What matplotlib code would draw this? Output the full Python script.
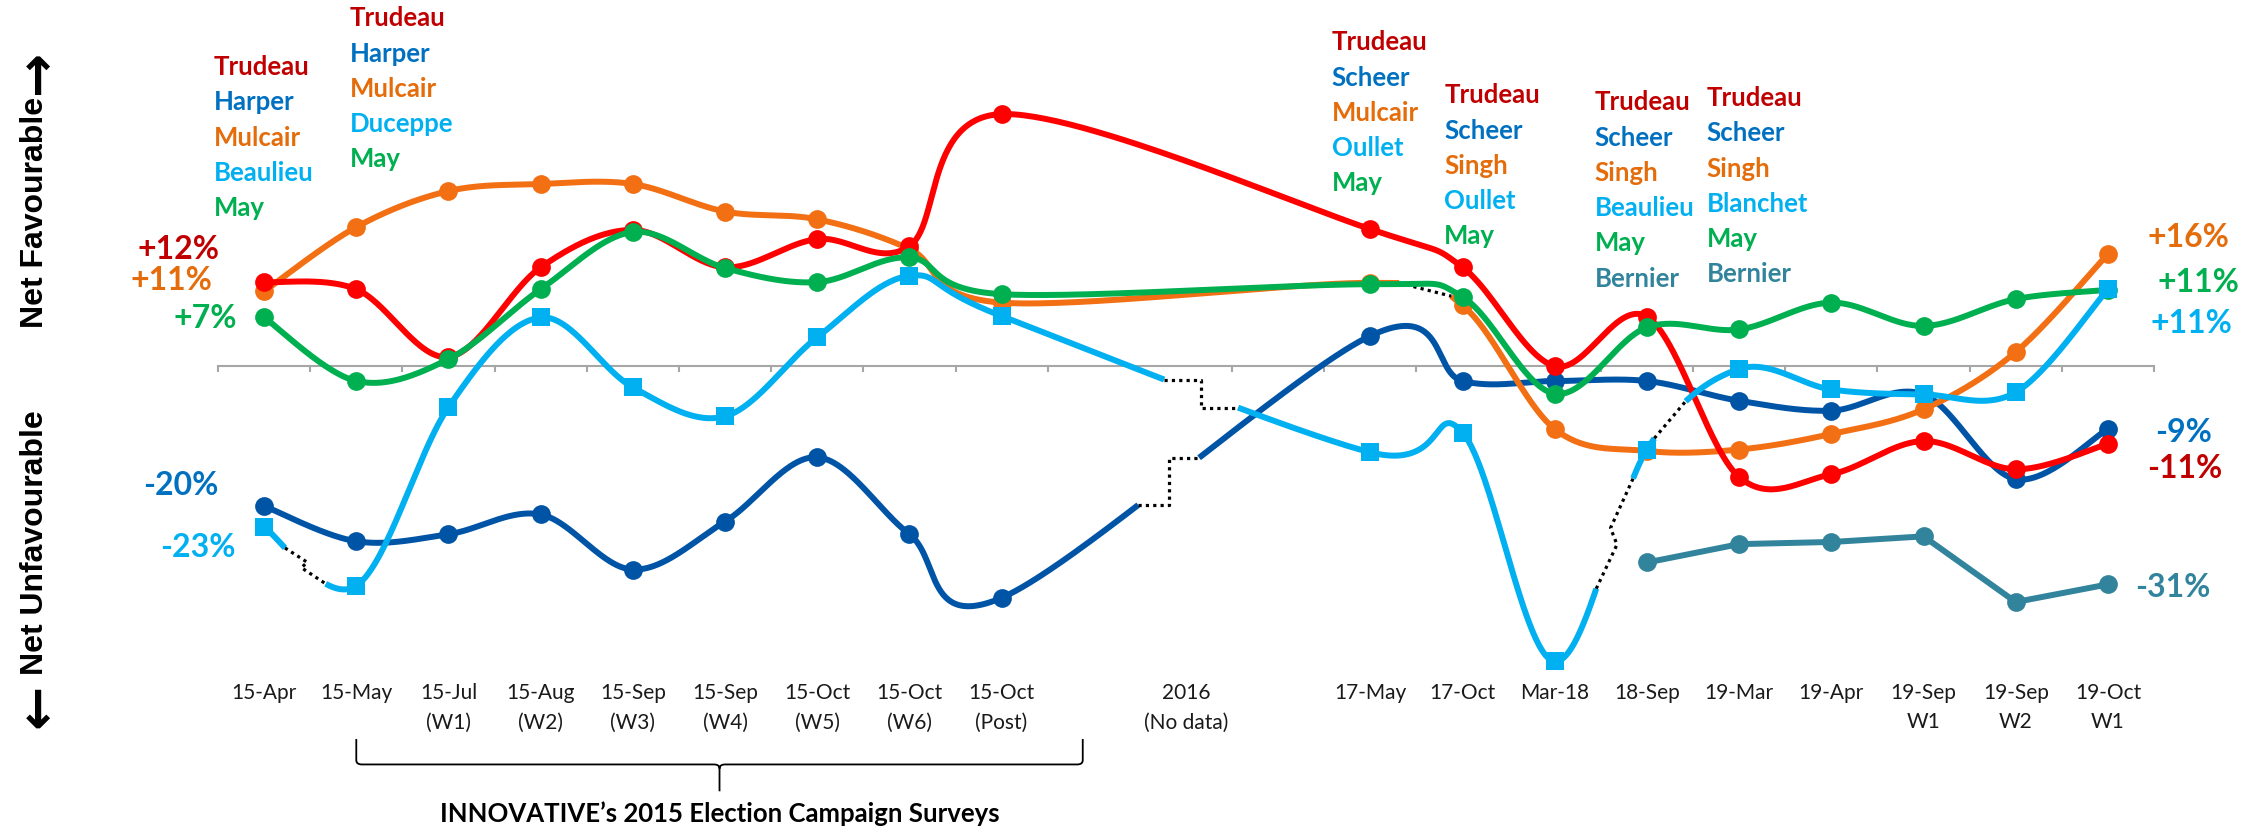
import numpy as np
import matplotlib
matplotlib.use("Agg")
import matplotlib.pyplot as plt
from matplotlib.path import Path
from matplotlib.patches import PathPatch

plt.rcParams["font.family"] = ["Lato", "DejaVu Sans"]

nan = np.nan

# survey waves (two blank slots frame the 2016 "no data" gap)
categories = ["15-Apr", "15-May", "15-Jul\n(W1)", "15-Aug\n(W2)", "15-Sep\n(W3)", "15-Sep\n(W4)",
              "15-Oct\n(W5)", "15-Oct\n(W6)", "15-Oct\n(Post)", "", "2016\n(No data)", "",
              "17-May", "17-Oct", "Mar-18", "18-Sep", "19-Mar", "19-Apr",
              "19-Sep\nW1", "19-Sep\nW2", "19-Oct\nW1"]

# net favourability (%)
liberal = [11.9, 10.9, 1.3, 14.0, 19.3, 14.0, 18.0, 17.0, 35.7, nan, nan, nan,
           19.4, 14.0, 0.0, 7.0, -15.7, -15.3, -10.6, -14.6, -11.0]
conservative = [-19.8, -24.8, -23.8, -21.0, -28.8, -22.0, -12.9, -23.8, -32.8, nan, nan, nan,
                4.3, -2.1, -2.1, -2.1, -4.9, -6.3, -4.0, -16.0, -8.9]
ndp = [10.6, 19.7, 24.8, 25.8, 25.8, 21.9, 20.8, 16.6, 9.0, nan, nan, nan,
       11.8, 8.6, -8.9, -12.0, -11.8, -9.6, -6.1, 2.0, 15.9]
green = [6.9, -2.1, 1.0, 10.9, 19.0, 13.9, 11.9, 15.4, 10.2, nan, nan, nan,
         11.6, 9.8, -3.9, 5.5, 5.2, 9.0, 5.7, 9.5, 10.8]
bloc = [-22.8, -31.1, -5.8, 6.9, -3.0, -7.1, 4.1, 12.8, 7.1, nan, nan, nan,
        -12.2, -9.4, -41.8, -11.8, -0.4, -3.3, -4.0, -3.7, 10.9]
ppc = [nan] * 15 + [-27.8, -25.2, -24.9, -24.1, -33.4, -30.9]

name_columns = [
    ["Trudeau", "Harper", "Mulcair", "Beaulieu", "May"],
    ["Trudeau", "Harper", "Mulcair", "Duceppe", "May"],
    ["Trudeau", "Scheer", "Mulcair", "Oullet", "May"],
    ["Trudeau", "Scheer", "Singh", "Oullet", "May"],
    ["Trudeau", "Scheer", "Singh", "Beaulieu", "May", "Bernier"],
    ["Trudeau", "Scheer", "Singh", "Blanchet", "May", "Bernier"],
]
start_labels = ["+12%", "+11%", "+7%", "-20%", "-23%"]
end_labels = ["+16%", "+11%", "+11%", "-9%", "-11%", "-31%"]

LINE = {"lib": "#FF0000", "con": "#0054A6", "ndp": "#F26F13",
        "bq": "#00B0F0", "grn": "#00B050", "ppc": "#31849B"}
TEXT = {"lib": "#C00000", "con": "#0070C0", "ndp": "#E46C0A",
        "bq": "#00B0F0", "grn": "#00B050", "ppc": "#31849B"}
row_party = ["lib", "con", "ndp", "bq", "grn", "ppc"]

fig = plt.figure(figsize=(22.67, 8.29), dpi=100)
ax = fig.add_axes([218 / 2267, 0, (2154 - 218) / 2267, 1])
ax.set_xlim(-0.5, 20.5)
ax.set_ylim(-65.4, 52.0)
ax.patch.set_visible(False)
for s in ["top", "left", "right"]:
    ax.spines[s].set_visible(False)
ax.spines["bottom"].set_position(("data", 0))
ax.spines["bottom"].set_color("#A6A6A6")
ax.spines["bottom"].set_linewidth(1.5)
ax.set_yticks([])
ax.set_xticks([i - 0.5 for i in range(len(categories) + 1) if i != 10])
ax.set_xticklabels([])
ax.tick_params(axis="x", direction="out", length=4.5, width=1.5, color="#A6A6A6")


def segments(x, y, smooth=True):
    pts = np.column_stack([x, y])
    segs = []
    for i in range(len(pts) - 1):
        p1, p2 = pts[i], pts[i + 1]
        if smooth:
            p0 = pts[max(i - 1, 0)]
            p3 = pts[min(i + 2, len(pts) - 1)]
            segs.append((p1, p1 + (p2 - p0) / 6, p2 - (p3 - p1) / 6, p2))
        else:
            segs.append((p1, p1 + (p2 - p1) / 3, p2 - (p2 - p1) / 3, p2))
    return segs


def bez(seg, t0=0.0, t1=1.0, n=60):
    p1, c1, c2, p2 = seg
    t = np.linspace(t0, t1, n)[:, None]
    return (1 - t) ** 3 * p1 + 3 * (1 - t) ** 2 * t * c1 + 3 * (1 - t) * t ** 2 * c2 + t ** 3 * p2


def connector(a, b, style, z):
    if style == "step":
        mx = (a[0] + b[0]) / 2
        px, py = [a[0], mx, mx, b[0]], [a[1], a[1], b[1], b[1]]
    elif style == "zig":
        d = b - a
        k1 = a + 0.4 * d + np.array([0.065, 0])
        k2 = a + 0.55 * d - np.array([0.065, 0])
        px, py = [a[0], k1[0], k2[0], b[0]], [a[1], k1[1], k2[1], b[1]]
    else:
        px, py = [a[0], b[0]], [a[1], b[1]]
    ax.plot(px, py, color="black", lw=2.3, linestyle=(0, (1, 1.3)),
            dash_capstyle="butt", zorder=z + 0.5)


def draw_series(values, party, marker, z, breaks=None, smooth=True):
    breaks = breaks or {}
    color = LINE[party]
    x = np.arange(len(values), dtype=float)
    y = np.array(values, dtype=float)
    ok = ~np.isnan(y)
    x, y = x[ok], y[ok]
    pieces, run = [], []
    for seg in segments(x, y, smooth):
        key = int(round(seg[0][0]))
        if key in breaks:
            t1, t2, style = breaks[key]
            run.append(bez(seg, 0, t1))
            pieces.append(np.vstack(run))
            run = [bez(seg, t2, 1)]
            connector(bez(seg, t1, t1, 1)[0], bez(seg, t2, t2, 1)[0], style, z)
        else:
            run.append(bez(seg))
    pieces.append(np.vstack(run))
    for p in pieces:
        ax.plot(p[:, 0], p[:, 1], color=color, lw=4.3, solid_capstyle="butt",
                solid_joinstyle="round", zorder=z)
    ms = 13 if marker == "s" else 13.5
    ax.plot(x, y, linestyle="none", marker=marker, ms=ms, color=color, mew=0, zorder=z)


draw_series(conservative, "con", "o", 3, {8: (0.39, 0.53, "step")})
draw_series(ndp, "ndp", "o", 4, {12: (0.15, 0.85, "line")})
draw_series(liberal, "lib", "o", 5)
draw_series(green, "grn", "o", 6)
draw_series(bloc, "bq", "s", 7, {0: (0.3, 0.7, "zig"), 8: (0.45, 0.62, "step"),
                                 14: (0.45, 0.85, "zig"), 15: (0.08, 0.42, "line")})
draw_series(ppc, "ppc", "o", 8, smooth=False)

# category labels
for i, lab in enumerate(categories):
    for k, line in enumerate(lab.split("\n")):
        if line:
            ax.text(i, -46.2 - 4.1 * k, line, ha="center", va="center",
                    fontsize=15, color="#1A1A1A")

# leader name stacks
col_x = [-0.55, 0.93, 11.58, 12.80, 14.43, 15.65]
col_top = [42.5, 49.4, 46.0, 38.5, 37.5, 38.1]
for names, cx, cy in zip(name_columns, col_x, col_top):
    for k, name in enumerate(names):
        ax.text(cx, cy - 4.99 * k, name, color=TEXT[row_party[k]], fontsize=18.5,
                fontweight="bold", ha="left", va="center")

# first / last values
start_party = ["lib", "ndp", "grn", "con", "bq"]
start_x = [-0.48, -0.56, -0.29, -0.49, -0.31]
start_y = [16.6, 12.3, 6.9, -16.7, -25.6]
for lab, p, sx, sy in zip(start_labels, start_party, start_x, start_y):
    ax.text(sx, sy, lab, color=TEXT[p], fontsize=23, fontweight="bold", ha="right", va="center")

end_party = ["ndp", "grn", "bq", "con", "lib", "ppc"]
end_x = [20.43, 20.54, 20.46, 20.51, 20.43, 20.29]
end_y = [18.4, 12.0, 6.2, -9.2, -14.3, -31.2]
for lab, p, ex, ey in zip(end_labels, end_party, end_x, end_y):
    ax.text(ex, ey, lab, color=TEXT[p], fontsize=23, fontweight="bold", ha="left", va="center")

# brace under the 2015 campaign waves
xl, xr = 1.0, 8.88
xc = (xl + xr) / 2
yt, yh, ytip = -52.8, -56.4, -60.2
rx, ry = 0.06, 0.6
verts = [(xl, yt), (xl, yh + ry), (xl, yh), (xl + rx, yh), (xc - rx, yh), (xc, yh), (xc, yh - ry),
         (xc, ytip), (xc, yh - ry), (xc, yh), (xc + rx, yh), (xr - rx, yh), (xr, yh), (xr, yh + ry),
         (xr, yt)]
codes = [Path.MOVETO, Path.LINETO, Path.CURVE3, Path.CURVE3, Path.LINETO, Path.CURVE3, Path.CURVE3,
         Path.LINETO, Path.MOVETO, Path.CURVE3, Path.CURVE3, Path.LINETO, Path.CURVE3, Path.CURVE3,
         Path.LINETO]
ax.add_patch(PathPatch(Path(verts, codes), facecolor="none", edgecolor="black", lw=1.3, clip_on=False))
ax.text(xc, -63.2, "INNOVATIVE\u2019s 2015 Election Campaign Surveys", ha="center", va="center",
        fontsize=18.5, fontweight="bold", color="black")

# vertical axis captions, arrows drawn separately so they come out full size
cap = dict(rotation=90, ha="center", va="center", fontsize=23, fontweight="bold",
           family=["Liberation Sans", "DejaVu Sans"])
arrow = dict(rotation=90, ha="center", va="center", fontsize=38, fontweight="bold",
             family=["DejaVu Sans"])
fig.text(0.0154, 1 - 212 / 829, "Net Favourable", **cap)
fig.text(0.0168, 1 - 72 / 829, "\u2192", **arrow)
fig.text(0.0154, 1 - 543 / 829, "Net Unfavourable", **cap)
fig.text(0.0168, 1 - 706 / 829, "\u2190", **arrow)

fig.savefig("out.png", dpi=100)
